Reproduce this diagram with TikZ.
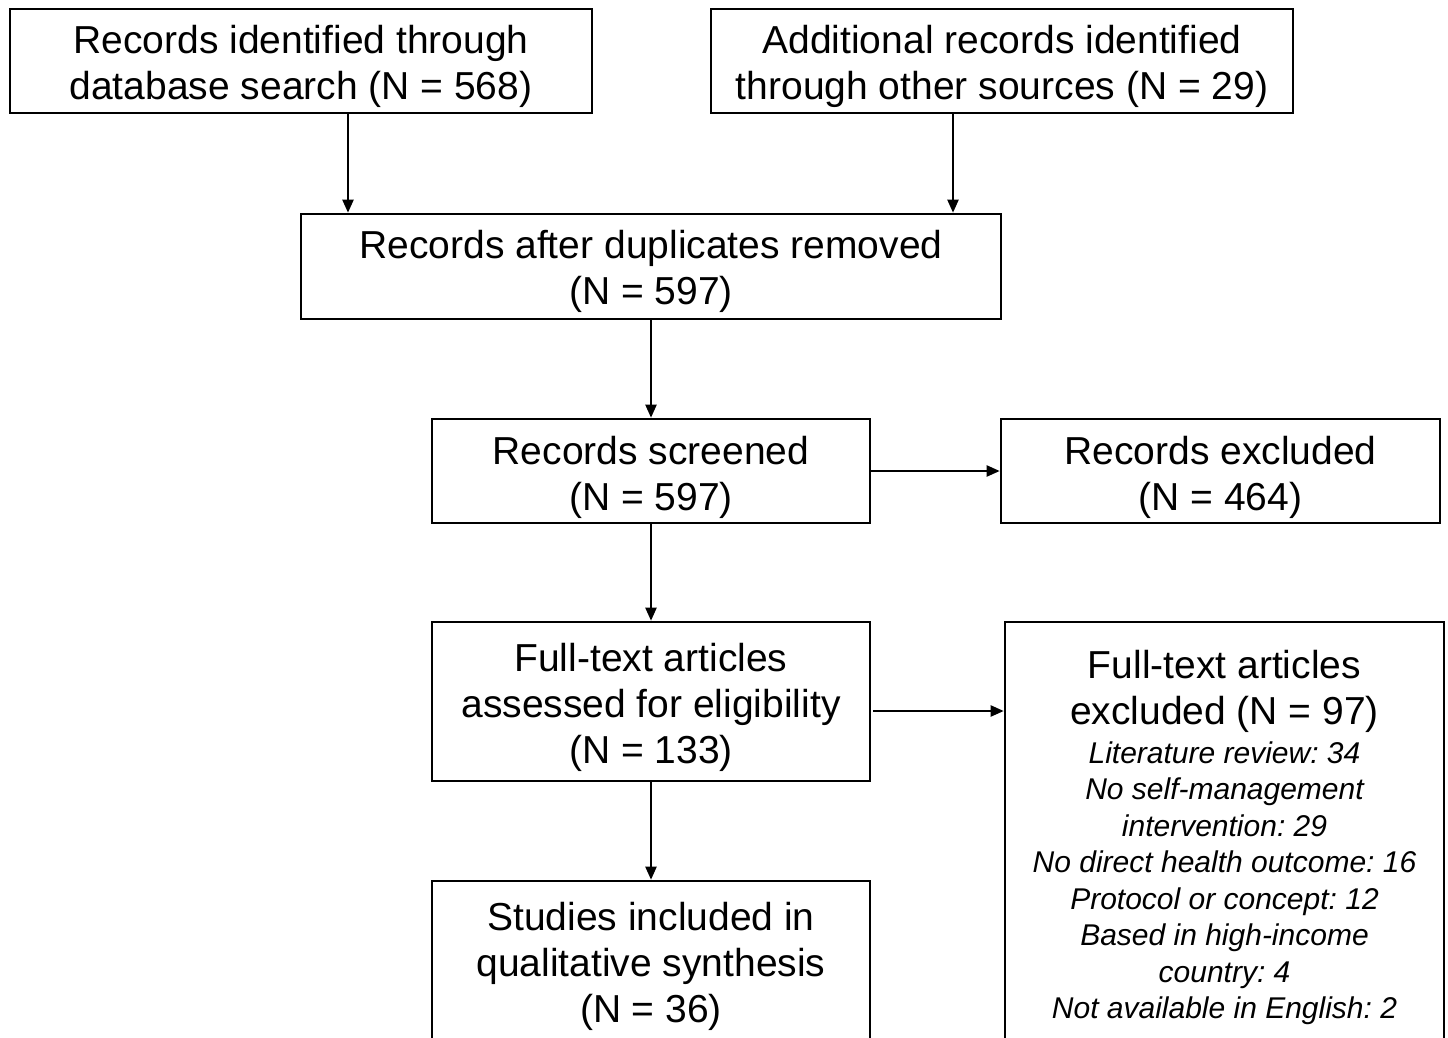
\documentclass[tikz,border=0pt]{standalone}
\usepackage{fontspec}
\setmainfont{Liberation Sans}
\usetikzlibrary{arrows.meta}
\begin{document}
\frenchspacing
\begin{tikzpicture}[x=1pt,y=-1pt,
  box/.style={draw=black,line width=2.6pt,rectangle,inner sep=0pt},
  txt/.style={align=center,inner sep=0pt,font=\fontsize{39}{46}\selectfont},
  small/.style={align=center,inner sep=0pt,font=\fontsize{30}{36.5}\selectfont\itshape},
  conn/.style={line width=2.2pt,-{Triangle[length=13pt,width=11pt]}}]
\useasboundingbox (0,0) rectangle (1448,1038);
\clip (0,0) rectangle (1448,1038);
\fill[white] (0,0) rectangle (1448,1038);
\node[box,minimum width=582pt,minimum height=104pt] (db) at (301,61) {};
\node[txt] (dbt) at (301,66) {Records identified through\\database search (N = 568)};
\node[box,minimum width=582pt,minimum height=104pt] (other) at (1002,61) {};
\node[txt] (othert) at (1002,66) {Additional records identified\\through other sources (N = 29)};
\node[box,minimum width=700pt,minimum height=105pt] (dup) at (651,266.5) {};
\node[txt] (dupt) at (651,271.5) {Records after duplicates removed\\(N = 597)};
\node[box,minimum width=438pt,minimum height=104pt] (scr) at (651,471) {};
\node[txt] (scrt) at (651,477) {Records screened\\(N = 597)};
\node[box,minimum width=439pt,minimum height=104pt] (exc) at (1220.5,471) {};
\node[txt] (exct) at (1220.5,477) {Records excluded\\(N = 464)};
\node[box,minimum width=438pt,minimum height=159pt] (full) at (651,701.5) {};
\node[txt] (fullt) at (651,707.5) {Full-text articles\\assessed for eligibility\\(N = 133)};
\node[box,minimum width=439pt,minimum height=422pt] (fexc) at (1224.5,833) {};
\node[txt] (fexct) at (1224.5,691) {Full-text articles\\excluded (N = 97)};
\node[small] (fexcl) at (1224.5,883) {Literature review: 34\\No self-management\\intervention: 29\\No direct health outcome: 16\\Protocol or concept: 12\\Based in high-income\\country: 4\\Not available in English: 2};
\node[box,minimum width=438pt,minimum height=166pt] (inc) at (651,964) {};
\node[txt] (inct) at (651,966.5) {Studies included in\\qualitative synthesis\\(N = 36)};
\draw[conn] (db.south -| 348,0) -- (dup.north -| 348,0);
\draw[conn] (other.south -| 953,0) -- (dup.north -| 953,0);
\draw[conn] (dup) -- (scr);
\draw[conn] (scr) -- (exc);
\draw[conn] (scr) -- (full);
\draw[conn] ([xshift=2pt]full.east |- 0,711) -- (fexc.west |- 0,711);
\draw[conn] (full) -- (inc);
\end{tikzpicture}
\end{document}
